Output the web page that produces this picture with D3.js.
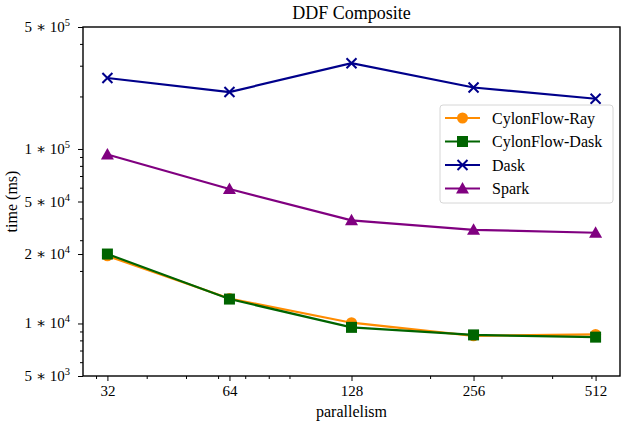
<!DOCTYPE html>
<html>
<head>
<meta charset="utf-8">
<script src="https://cdn.jsdelivr.net/npm/d3@7"></script>
<style>
  body { margin: 0; background: #fff; }
  svg { font-family: "Liberation Serif", "DejaVu Serif", serif; }
</style>
</head>
<body>
<div id="chart"></div>
<script>
var width = 626;
var height = 427;

// data
var parallelism = [32, 64, 128, 256, 512];
var cylonRay  = [24400, 13900, 10100, 8500, 8650];
var cylonDask = [25000, 13800, 9500, 8600, 8350];
var dask      = [255000, 212000, 310000, 225000, 194000];
var spark     = [93000, 59000, 39000, 34400, 33100];

var seriesNames  = ["CylonFlow-Ray", "CylonFlow-Dask", "Dask", "Spark"];
var seriesColors = ["#ff8c00", "#006400", "#00008b", "#800080"];
var seriesMarks  = ["circle", "square", "x", "triangle"];

// y tick values and their labels (mantissa, exponent)
var yTicks = [5e3, 1e4, 2.5e4, 5e4, 1e5, 5e5];
var yTickMant = ["5", "1", "2", "5", "1", "5"];
var yTickExp  = ["3", "4", "4", "4", "5", "5"];
var yMinor = [6e3, 7e3, 8e3, 9e3, 2e4, 3e4, 4e4, 6e4, 7e4, 8e4, 9e4, 2e5, 3e5, 4e5];
var xMinor = [30, 40, 50, 60, 70, 80, 90, 200, 300, 400, 500];

var margin = {left: 83, right: 6, top: 27, bottom: 51};

var svg = d3.select("#chart").append("svg")
  .attr("width", width)
  .attr("height", height);

var x = d3.scaleLog().base(2)
  .domain([Math.pow(2, 4.8), Math.pow(2, 9.2)])
  .range([margin.left, width - margin.right]);

var y = d3.scaleLog()
  .domain([5e3, 5e5])
  .range([height - margin.bottom, margin.top]);

// x axis
var xAxis = svg.append("g")
  .attr("transform", "translate(0," + (height - margin.bottom) + ")")
  .call(d3.axisBottom(x).tickValues(parallelism).tickFormat(d3.format("d"))
    .tickSize(5).tickPadding(4));
xAxis.select(".domain").remove();
svg.append("g")
  .attr("transform", "translate(0," + (height - margin.bottom) + ")")
  .call(d3.axisBottom(x).tickValues(xMinor).tickFormat("").tickSize(3))
  .select(".domain").remove();

// y axis
var yAxis = svg.append("g")
  .attr("transform", "translate(" + margin.left + ",0)")
  .call(d3.axisLeft(y).tickValues(yTicks).tickFormat("").tickSize(5));
yAxis.select(".domain").remove();
svg.append("g")
  .attr("transform", "translate(" + margin.left + ",0)")
  .call(d3.axisLeft(y).tickValues(yMinor).tickFormat("").tickSize(3))
  .select(".domain").remove();

svg.selectAll(".tick line").attr("stroke", "#000").attr("stroke-width", 1);
svg.selectAll(".tick text").attr("font-size", 15).attr("fill", "#000")
  .attr("font-family", "Liberation Serif, serif");

var yLab = svg.append("g").selectAll("text")
  .data(yTicks)
  .join("text")
  .attr("x", margin.left - 13)
  .attr("y", function(d) { return y(d) + 5; })
  .attr("text-anchor", "end")
  .attr("font-size", 15);
yLab.append("tspan").text(function(d, i) { return yTickMant[i] + " \u2217 10"; });
yLab.append("tspan").attr("dy", -6).attr("font-size", 10.5)
  .text(function(d, i) { return yTickExp[i]; });

// frame
svg.append("rect")
  .attr("x", margin.left)
  .attr("y", margin.top)
  .attr("width", width - margin.right - margin.left)
  .attr("height", height - margin.bottom - margin.top)
  .attr("fill", "none")
  .attr("stroke", "#000")
  .attr("stroke-width", 1.4);

// titles
svg.append("text")
  .attr("x", (margin.left + width - margin.right) / 2)
  .attr("y", 19)
  .attr("text-anchor", "middle")
  .attr("font-size", 18)
  .text("DDF Composite");

svg.append("text")
  .attr("x", (margin.left + width - margin.right) / 2)
  .attr("y", 417)
  .attr("text-anchor", "middle")
  .attr("font-size", 16)
  .text("parallelism");

svg.append("text")
  .attr("transform", "translate(17," + ((margin.top + height - margin.bottom) / 2) + ")rotate(-90)")
  .attr("text-anchor", "middle")
  .attr("font-size", 16)
  .text("time (ms)");

function drawMarker(g, kind, color) {
  if (kind == "circle") {
    g.append("circle").attr("r", 5.5).attr("fill", color);
  } else if (kind == "square") {
    g.append("rect").attr("x", -5.5).attr("y", -5.5).attr("width", 11).attr("height", 11)
      .attr("fill", color);
  } else if (kind == "x") {
    g.append("path").attr("d", "M-5,-5L5,5M-5,5L5,-5")
      .attr("stroke", color).attr("stroke-width", 2).attr("fill", "none");
  } else {
    g.append("path").attr("d", "M0,-6.5L6.5,5L-6.5,5Z").attr("fill", color);
  }
}

var allSeries = [cylonRay, cylonDask, dask, spark];
var line = d3.line()
  .x(function(d, i) { return x(parallelism[i]); })
  .y(function(d) { return y(d); });

allSeries.forEach(function(values, s) {
  svg.append("path")
    .datum(values)
    .attr("d", line)
    .attr("fill", "none")
    .attr("stroke", seriesColors[s])
    .attr("stroke-width", 2.2);
  values.forEach(function(v, i) {
    var g = svg.append("g")
      .attr("transform", "translate(" + x(parallelism[i]) + "," + y(v) + ")");
    drawMarker(g, seriesMarks[s], seriesColors[s]);
  });
});

// legend
var legend = svg.append("g").attr("transform", "translate(440,105)");
legend.append("rect")
  .attr("width", 173)
  .attr("height", 98)
  .attr("rx", 3)
  .attr("fill", "#fff")
  .attr("fill-opacity", 0.85)
  .attr("stroke", "#d6d6d6")
  .attr("stroke-width", 1);

seriesNames.forEach(function(name, s) {
  var row = legend.append("g").attr("transform", "translate(0," + (13 + s * 23.5) + ")");
  row.append("line")
    .attr("x1", 5).attr("x2", 40)
    .attr("stroke", seriesColors[s]).attr("stroke-width", 2.2);
  drawMarker(row.append("g").attr("transform", "translate(22.5,0)"), seriesMarks[s], seriesColors[s]);
  row.append("text")
    .attr("x", 52)
    .attr("y", 5.5)
    .attr("font-size", 16)
    .text(name);
});
</script>
</body>
</html>
